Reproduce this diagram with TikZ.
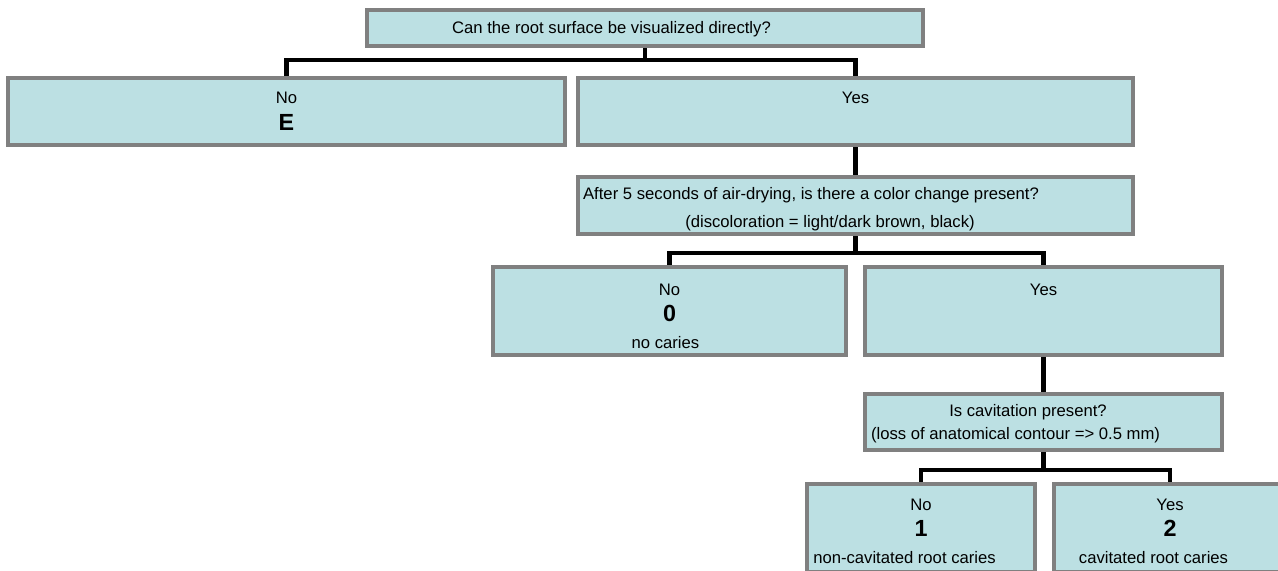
\documentclass[tikz,border=0pt]{standalone}
\usepackage{fontspec}
\setmainfont{Liberation Sans}
\usetikzlibrary{backgrounds}
\definecolor{ftfill}{RGB}{188,224,227}
\definecolor{ftgray}{RGB}{128,128,128}
\tikzset{
  ftbox/.style={draw=ftgray, line width=2.4pt, fill=ftfill, inner sep=0pt, align=center, font=\fontsize{10}{16}\selectfont},
  ftwide/.style={ftbox, minimum width=333pt},
  ftline/.style={line width=2.7pt, line cap=rect},
}
\newcommand{\ftcode}[1]{{\fontsize{14}{16}\selectfont\bfseries #1}}
\newcommand{\ftlow}[1]{\rule{0pt}{#1}}

\begin{document}
\begin{tikzpicture}[x=0.6pt, y=-0.6pt]
  \useasboundingbox (0,0) rectangle (1278,571);
  \clip (0,0) rectangle (1278,571);

  % First question: can the surface be seen?
  \node[ftbox, minimum width=333.6pt, minimum height=21.6pt] (q1) at (645,28) {\ftlow{9.2pt}Can the root surface be visualized directly?\hspace*{40.2pt}};
  \node[ftbox, minimum width=334.2pt, minimum height=40.2pt] (no1) at (286.5,111.5) {No\\\ftcode{E}};
  \node[ftwide, minimum height=40.2pt] (yes1) at (855.5,111.5) {Yes\\\ftcode{\phantom{E}}};

  % Second question: colour change after air-drying.
  \node[ftwide, minimum height=34.2pt, font=\fontsize{10}{16.8}\selectfont] (q2) at (855.5,205.5)
    {\ftlow{12pt}After 5 seconds of air-drying, is there a color change present?\hspace*{53.4pt}\\(discoloration = light/dark brown, black)\hspace*{30.6pt}};
  \node[ftbox, minimum width=211.8pt, minimum height=52.8pt] (no2) at (669.5,311) {\ftlow{13pt}No\\\ftcode{0}\\no caries\hspace*{4.8pt}};
  \node[ftbox, minimum width=214.2pt, minimum height=52.8pt] (yes2) at (1043.5,311) {\ftlow{13pt}Yes\\\ftcode{\phantom{0}}\\\phantom{no caries}};

  % Third question: cavitation.
  \node[ftbox, minimum width=214.2pt, minimum height=33.6pt, font=\fontsize{10}{13.8}\selectfont] (q3) at (1043.5,422)
    {\ftlow{9.2pt}Is cavitation present?\hspace*{18.6pt}\\(loss of anatomical contour => 0.5 mm)\hspace*{33.6pt}};
  \node[ftbox, minimum width=136.8pt, minimum height=52.8pt] (no3) at (921,528) {\ftlow{10.8pt}No\\\ftcode{1}\\non-cavitated root caries\hspace*{19.8pt}};
  \node[ftbox, minimum width=139.2pt, minimum height=52.8pt] (yes3) at (1170,528) {\ftlow{10.8pt}Yes\\\ftcode{2}\\cavitated root caries\hspace*{19.8pt}};

  % Bus points of the branches.
  \coordinate (bus1) at (645,60);
  \coordinate (bus2) at (855.5,253);
  \coordinate (bus3) at (1043.5,470);

  % Connectors (behind the boxes).
  \begin{scope}[on background layer]
    \draw[ftline] (q1.south) -- (bus1) -| (no1.north);
    \draw[ftline] (bus1) -| (yes1.north);
    \draw[ftline] (yes1.south) -- (q2.north);
    \draw[ftline] (q2.south) -- (bus2) -| (no2.north);
    \draw[ftline] (bus2) -| (yes2.north);
    \draw[ftline] (yes2.south) -- (q3.north);
    \draw[ftline] (q3.south) -- (bus3) -| (no3.north);
    \draw[ftline] (bus3) -| (yes3.north);
  \end{scope}
\end{tikzpicture}
\end{document}
